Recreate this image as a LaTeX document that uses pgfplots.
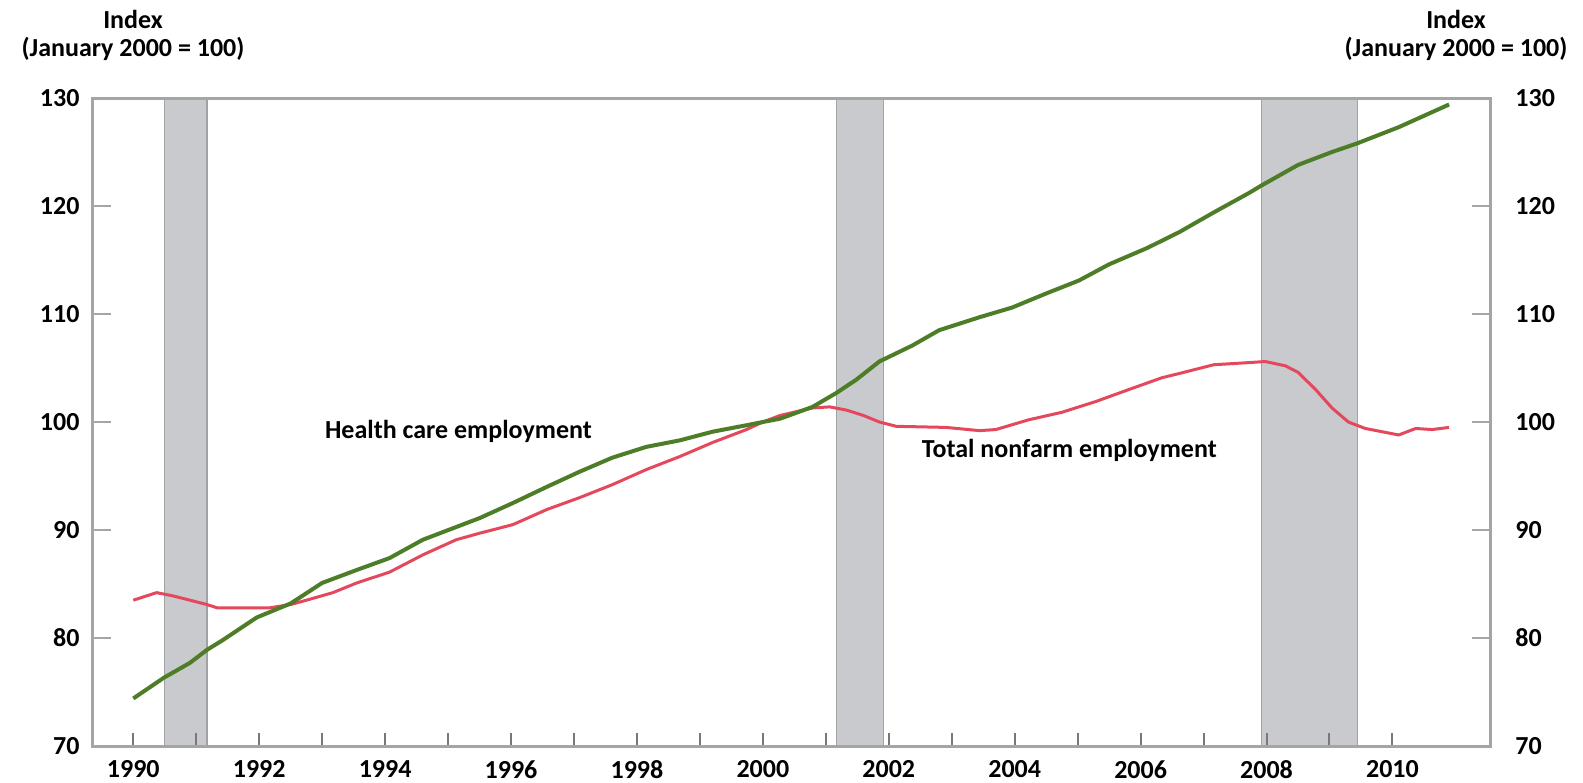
\documentclass[border=0pt]{standalone}
\usepackage{fontspec}
\setmainfont{Carlito}
\usepackage{pgfplots}
\pgfplotsset{compat=1.18}
\definecolor{hcgreen}{RGB}{78,125,40}
\definecolor{tnred}{RGB}{228,72,92}
\definecolor{band}{RGB}{200,202,205}
\definecolor{bandedge}{RGB}{160,162,165}
\definecolor{axgray}{RGB}{165,165,165}
\definecolor{tickgray}{RGB}{120,120,120}

\pgfplotstableread{
year value
1990.00 74.4
1990.48 76.3
1990.90 77.7
1991.17 78.9
1991.42 79.8
1991.96 81.9
1992.50 83.2
1993.00 85.1
1993.55 86.3
1994.07 87.4
1994.60 89.1
1995.50 91.1
1996.03 92.5
1996.57 94.0
1997.09 95.4
1997.61 96.7
1998.15 97.7
1998.68 98.3
1999.20 99.1
1999.74 99.7
2000.00 100.0
2000.27 100.3
2000.79 101.4
2001.17 102.7
2001.48 103.9
2001.85 105.6
2002.38 107.1
2002.80 108.5
2003.44 109.7
2003.96 110.6
2004.50 111.9
2005.02 113.1
2005.50 114.6
2006.10 116.1
2006.62 117.6
2007.16 119.4
2007.72 121.2
2007.92 121.9
2008.50 123.8
2009.04 125.0
2009.44 125.8
2010.10 127.3
2010.90 129.4
}\health

\pgfplotstableread{
year value
1990.00 83.5
1990.37 84.2
1990.63 83.9
1990.90 83.5
1991.17 83.1
1991.33 82.8
1991.70 82.8
1992.17 82.8
1992.50 83.1
1992.75 83.5
1993.17 84.2
1993.55 85.1
1994.07 86.1
1994.60 87.7
1995.13 89.1
1995.50 89.7
1996.03 90.5
1996.57 91.9
1997.09 93.0
1997.61 94.2
1998.15 95.6
1998.68 96.8
1999.20 98.1
1999.74 99.3
2000.00 100.0
2000.27 100.6
2000.79 101.3
2001.06 101.4
2001.33 101.1
2001.60 100.6
2001.85 100.0
2002.12 99.6
2002.91 99.5
2003.44 99.2
2003.70 99.3
2004.22 100.2
2004.75 100.9
2005.29 101.9
2005.81 103.0
2006.34 104.1
2006.62 104.5
2007.16 105.3
2007.72 105.5
2007.98 105.6
2008.30 105.2
2008.50 104.6
2008.78 103.0
2009.04 101.3
2009.30 100.0
2009.57 99.4
2010.10 98.8
2010.37 99.4
2010.63 99.3
2010.90 99.5
}\nonfarm

\begin{document}
\begin{tikzpicture}
\pgfplotsset{
  base/.style={
    scale only axis, width=698.5pt, height=324pt,
    xmin=1989.36, xmax=2011.55, ymin=70, ymax=130,
    ytick={70,80,...,130},
    ticklabel style={font=\fontsize{13}{15}\selectfont\bfseries},
    /pgf/number format/assume math mode=true,
  }
}
\begin{axis}[base,
    axis on top,
    axis line style={draw=axgray, line width=1.5pt},
    tick align=inside,
    xtick={1990,1991,...,2010},
    xticklabels={1990,,1992,,1994,,1996,,1998,,2000,,2002,,2004,,2006,,2008,,2010},
    xtick pos=bottom, ytick pos=both, yticklabel pos=left,
    xtick style={draw=tickgray, line width=1pt, /pgfplots/major tick length=6.5pt},
    ytick style={draw=axgray, line width=1pt, /pgfplots/major tick length=9pt},
    xticklabel style={yshift=-3.7pt},
    yticklabel style={xshift=-3.2pt},
]
% recession bands
\addplot[fill=band, draw=bandedge, line width=0.6pt] coordinates {(1990.50,70) (1990.50,130) (1991.17,130) (1991.17,70)} -- cycle;
\addplot[fill=band, draw=bandedge, line width=0.6pt] coordinates {(2001.17,70) (2001.17,130) (2001.92,130) (2001.92,70)} -- cycle;
\addplot[fill=band, draw=bandedge, line width=0.6pt] coordinates {(2007.92,70) (2007.92,130) (2009.45,130) (2009.45,70)} -- cycle;

\addplot[tnred, line width=1.5pt] table[x=year, y=value] {\nonfarm};
\addplot[hcgreen, line width=2pt] table[x=year, y=value] {\health};

\node[anchor=west, inner sep=0, font=\fontsize{13}{15}\selectfont\bfseries] at (axis cs:1993.04,99.1) {Health care employment};
\node[anchor=west, inner sep=0, font=\fontsize{13}{15}\selectfont\bfseries] at (axis cs:2002.52,97.4) {Total nonfarm employment};
\end{axis}

\begin{axis}[base,
    hide x axis,
    axis line style={draw=none},
    ytick pos=right, yticklabel pos=right,
    ytick style={draw=none},
    yticklabel style={xshift=9.2pt},
]
\end{axis}

\node[align=center, inner sep=0, font=\fontsize{13}{14}\selectfont\bfseries] at (20pt,355.5pt) {Index\\(January 2000 = 100)};
\node[align=center, inner sep=0, font=\fontsize{13}{14}\selectfont\bfseries] at (681.5pt,355.5pt) {Index\\(January 2000 = 100)};

\pgfresetboundingbox
\path (-46.5pt,-18pt) rectangle (745pt,373pt);
\end{tikzpicture}
\end{document}
